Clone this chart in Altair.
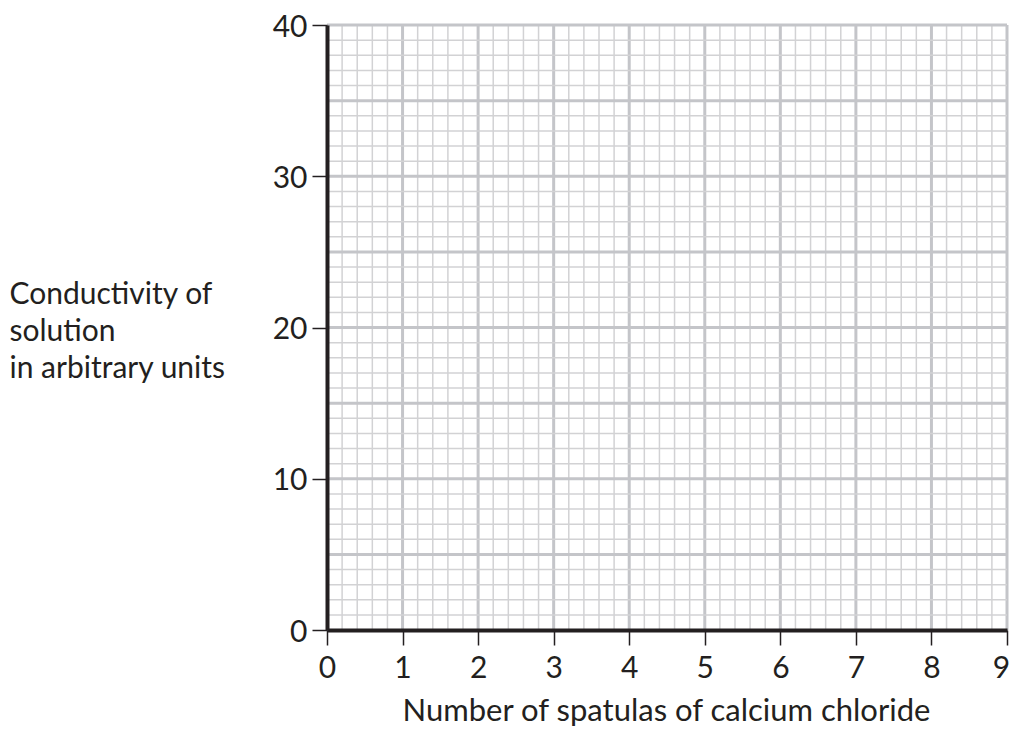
import altair as alt
import pandas as pd

x_ticks = [0, 1, 2, 3, 4, 5, 6, 7, 8, 9]
y_ticks = [0, 10, 20, 30, 40]
x_major = [1, 2, 3, 4, 5, 6, 7, 8, 9]
y_major = [5, 10, 15, 20, 25, 30, 35, 40]
x_minor = [round(i * 0.2, 1) for i in range(1, 45) if i % 5 != 0]
y_minor = [i for i in range(1, 40) if i % 5 != 0]

x_title = "Number of spatulas of calcium chloride"
y_title = ["Conductivity of", "solution", "in arbitrary units"]

FONT = "Lato"
INK = "#231f20"
MAJOR = "#c4c5c9"
MINOR = "#d2d2d4"
FS = 30

vdf = pd.DataFrame(
    {"pos": x_minor + x_major, "kind": ["minor"] * len(x_minor) + ["major"] * len(x_major)}
)
hdf = pd.DataFrame(
    {"pos": y_minor + y_major, "kind": ["minor"] * len(y_minor) + ["major"] * len(y_major)}
)

width_scale = alt.Scale(domain=["minor", "major"], range=[1.5, 3])
color_scale = alt.Scale(domain=["minor", "major"], range=[MINOR, MAJOR])

xaxis = alt.Axis(
    values=x_ticks, grid=False, domainColor=INK, domainWidth=4, tickColor=INK,
    tickWidth=1.5, tickSize=15, labelFont=FONT, labelFontSize=FS, labelColor=INK,
    labelPadding=8, labelOffset={"expr": "datum.value == 9 ? -6 : 0"},
    title=x_title, titleFont=FONT, titleFontSize=31,
    titleFontWeight="normal", titleColor=INK, titleBaseline="alphabetic",
    titleY=90, titleX=339, titleAlign="center", zindex=1, labelFlush=False,
)
yaxis = alt.Axis(
    values=y_ticks, grid=False, domainColor=INK, domainWidth=4, tickColor=INK,
    tickWidth=1.5, tickSize=15, labelFont=FONT, labelFontSize=FS, labelColor=INK,
    labelPadding=5, labelOffset=2, title=y_title, titleFont=FONT, titleFontSize=FS,
    titleFontWeight="normal", titleColor=INK, titleAngle=0, titleAlign="left",
    titleBaseline="alphabetic", titleX=-318, titleY=278, titleLineHeight=37,
    zindex=1, labelFlush=False,
)

vert = alt.Chart(vdf).mark_rule(strokeCap="butt").encode(
    x=alt.X("pos:Q", scale=alt.Scale(domain=[0, 9], nice=False, zero=False), axis=xaxis),
    strokeWidth=alt.StrokeWidth("kind:N", scale=width_scale, legend=None),
    color=alt.Color("kind:N", scale=color_scale, legend=None),
    order=alt.Order("kind:N", sort="descending"),
)
horiz = alt.Chart(hdf).mark_rule(strokeCap="butt").encode(
    y=alt.Y("pos:Q", scale=alt.Scale(domain=[0, 40], nice=False, zero=False), axis=yaxis),
    strokeWidth=alt.StrokeWidth("kind:N", scale=width_scale, legend=None),
    color=alt.Color("kind:N", scale=color_scale, legend=None),
    order=alt.Order("kind:N", sort="descending"),
)

chart = (
    alt.layer(vert, horiz)
    .properties(
        width=680, height=605,
        autosize=alt.AutoSizeParams(type="none"),
        padding={"left": 319, "top": 17, "right": 2, "bottom": 105},
    )
    .configure_view(stroke=None)
    .configure(background="white")
)

chart.save("out.html", embed_options={"renderer": "svg", "actions": False})
